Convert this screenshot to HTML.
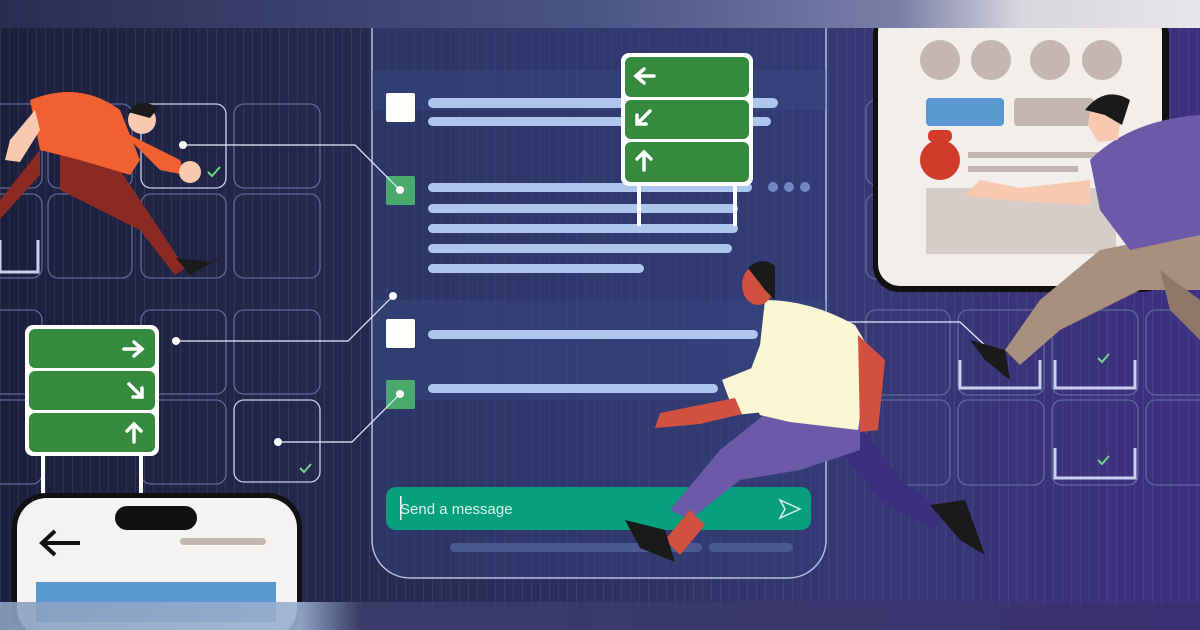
<!DOCTYPE html>
<html><head><meta charset="utf-8"><style>
html,body{margin:0;padding:0;width:1200px;height:630px;overflow:hidden;background:#22254a}
svg{display:block}
</style></head><body>
<svg width="1200" height="630" viewBox="0 0 1200 630" xmlns="http://www.w3.org/2000/svg">
<defs>
<linearGradient id="bg" x1="0" y1="0" x2="1" y2="0">
<stop offset="0" stop-color="#1c1f3c"/><stop offset="0.3" stop-color="#25294f"/><stop offset="0.7" stop-color="#353873"/><stop offset="1" stop-color="#3e2f80"/></linearGradient>
<linearGradient id="top" x1="0" y1="0" x2="1" y2="0">
<stop offset="0" stop-color="#2a2d52"/><stop offset="0.5" stop-color="#4a5588"/><stop offset="0.75" stop-color="#7a7fa8"/><stop offset="0.85" stop-color="#d8d6de"/><stop offset="1" stop-color="#e8e6ea"/></linearGradient>
<linearGradient id="bot" x1="0" y1="0" x2="1" y2="0">
<stop offset="0" stop-color="#8aa0c0"/><stop offset="0.25" stop-color="#9ab0d0"/><stop offset="0.3" stop-color="#3a3e6a"/><stop offset="1" stop-color="#3a3070"/></linearGradient>
<pattern id="vl" width="9" height="10" patternUnits="userSpaceOnUse"><rect x="0" y="0" width="1" height="10" fill="#ffffff" opacity="0.07"/></pattern>
</defs>
<rect width="1200" height="630" fill="url(#bg)"/>
<rect width="1200" height="630" fill="url(#vl)"/>
<g fill="none" stroke="#5d6a9c" stroke-width="1.3">
<rect x="-40" y="104" width="82" height="84" rx="10"/><rect x="48" y="104" width="84" height="84" rx="10"/><rect x="141" y="104" width="85" height="84" rx="10" stroke="#c8d0ee"/><rect x="234" y="104" width="86" height="84" rx="10"/>
<rect x="-40" y="194" width="82" height="84" rx="10"/><rect x="48" y="194" width="84" height="84" rx="10"/><rect x="141" y="194" width="85" height="84" rx="10"/><rect x="234" y="194" width="86" height="84" rx="10"/>
<rect x="-40" y="310" width="82" height="84" rx="10"/><rect x="141" y="310" width="85" height="84" rx="10"/><rect x="234" y="310" width="86" height="84" rx="10"/>
<rect x="-40" y="400" width="82" height="84" rx="10"/><rect x="141" y="400" width="85" height="84" rx="10"/><rect x="234" y="400" width="86" height="82" rx="10" stroke="#c8d0ee"/>
<rect x="866" y="310" width="84" height="85" rx="10"/><rect x="958" y="310" width="86" height="85" rx="10"/><rect x="1052" y="310" width="86" height="85" rx="10"/><rect x="1146" y="310" width="80" height="85" rx="10"/>
<rect x="866" y="400" width="84" height="85" rx="10"/><rect x="958" y="400" width="86" height="85" rx="10"/><rect x="1052" y="400" width="86" height="85" rx="10"/><rect x="1146" y="400" width="80" height="85" rx="10"/>
<rect x="866" y="100" width="84" height="85" rx="10"/><rect x="866" y="194" width="84" height="85" rx="10"/>
</g>
<g fill="none" stroke="#c8d0ee" stroke-width="3">
<path d="M960 360 v28 h80 v-28"/><path d="M1055 360 v28 h80 v-28"/><path d="M1055 448 v30 h80 v-30"/><path d="M0 240 v32 h38 v-32"/>
</g>
<g stroke="#6fd08a" stroke-width="2" fill="none"><path d="M208 172 l4 4 l8 -9"/><path d="M300 468 l4 4 l7 -8"/><path d="M1098 358 l4 4 l7 -8"/><path d="M1098 460 l4 4 l7 -8"/></g>
<path d="M372 28 V540 a38 38 0 0 0 38 38 H788 a38 38 0 0 0 38 -38 V28" fill="#33407a" fill-opacity="0.55" stroke="#b8c0e0" stroke-width="1.5"/>
<rect x="372" y="70" width="454" height="40" fill="#3a4c86" opacity="0.35"/>
<rect x="372" y="300" width="454" height="100" fill="#3a4c86" opacity="0.35"/>
<g fill="#aec6ee"><rect x="428" y="98" width="350" height="10" rx="5"/><rect x="428" y="117" width="343" height="9" rx="4.5"/>
<rect x="428" y="183" width="324" height="9" rx="4.5"/><rect x="428" y="204" width="310" height="9" rx="4.5"/><rect x="428" y="224" width="310" height="9" rx="4.5"/><rect x="428" y="244" width="304" height="9" rx="4.5"/><rect x="428" y="264" width="216" height="9" rx="4.5"/>
<rect x="428" y="330" width="330" height="9" rx="4.5"/><rect x="428" y="384" width="290" height="9" rx="4.5"/></g>
<g fill="#7686c0"><circle cx="773" cy="187" r="5"/><circle cx="789" cy="187" r="5"/><circle cx="805" cy="187" r="5"/></g>
<rect x="386" y="93" width="29" height="29" rx="2" fill="#fff"/><rect x="386" y="319" width="29" height="29" rx="2" fill="#fff"/>
<rect x="386" y="176" width="29" height="29" rx="2" fill="#4aaa6e"/><rect x="386" y="380" width="29" height="29" rx="2" fill="#4aaa6e"/>
<g stroke="#e8ecff" stroke-width="1.2" fill="none"><path d="M183 145 H355 L400 190"/><path d="M176 341 H348 L393 296"/><path d="M278 442 H352 L400 394"/><path d="M800 322 H960 L990 350"/></g>
<g fill="#fff"><circle cx="183" cy="145" r="4"/><circle cx="400" cy="190" r="4"/><circle cx="176" cy="341" r="4"/><circle cx="393" cy="296" r="4"/><circle cx="278" cy="442" r="4"/><circle cx="400" cy="394" r="4"/></g>
<rect x="386" y="487" width="425" height="43" rx="10" fill="#07a07e"/>
<rect x="400" y="496" width="1.5" height="24" fill="#fff"/>
<text x="400" y="514" font-family="Liberation Sans, sans-serif" font-size="15" fill="#d8f0ea">Send a message</text>
<path d="M780 500 L800 509 L780 518 L785 509 Z" fill="none" stroke="#d8f0ea" stroke-width="1.5"/>
<rect x="450" y="543" width="252" height="9" rx="4.5" fill="#4a5a90"/><rect x="709" y="543" width="84" height="9" rx="4.5" fill="#4a5a90"/>
<rect x="637" y="180" width="4" height="46" fill="#fff"/><rect x="733" y="180" width="4" height="46" fill="#fff"/>
<rect x="621" y="53" width="132" height="133" rx="8" fill="#fff"/>
<g fill="#358a3e"><rect x="625" y="57" width="124" height="40" rx="6"/><rect x="625" y="100" width="124" height="39" rx="6"/><rect x="625" y="142" width="124" height="40" rx="6"/></g>
<g stroke="#fff" stroke-width="3.5" fill="none" stroke-linecap="round"><path d="M654 76 H636 M644 69 L636 76 L644 83"/><path d="M650 111 L637 124 M637 115 V124 H646"/><path d="M644 170 V152 M637 159 L644 152 L651 159"/></g>
<rect x="41" y="452" width="4" height="46" fill="#fff"/><rect x="139" y="452" width="4" height="46" fill="#fff"/>
<rect x="25" y="325" width="134" height="131" rx="8" fill="#fff"/>
<g fill="#358a3e"><rect x="29" y="329" width="126" height="39" rx="6"/><rect x="29" y="371" width="126" height="39" rx="6"/><rect x="29" y="413" width="126" height="39" rx="6"/></g>
<g stroke="#fff" stroke-width="3.5" fill="none" stroke-linecap="round"><path d="M124 349 H142 M134 342 L142 349 L134 356"/><path d="M129 384 L142 397 M142 388 V397 H133"/><path d="M134 442 V424 M127 431 L134 424 L141 431"/></g>
<rect x="873" y="10" width="296" height="282" rx="26" fill="#111"/>
<rect x="878" y="10" width="284" height="276" rx="22" fill="#f1eeec"/>
<g fill="#c4b6b0"><circle cx="940" cy="60" r="20"/><circle cx="991" cy="60" r="20"/><circle cx="1050" cy="60" r="20"/><circle cx="1102" cy="60" r="20"/></g>
<rect x="926" y="98" width="78" height="28" rx="4" fill="#5a98d0"/><rect x="1014" y="98" width="80" height="28" rx="4" fill="#c4b6b0"/>
<rect x="968" y="152" width="130" height="6" fill="#c4b6b0"/><rect x="968" y="166" width="110" height="6" fill="#c4b6b0"/>
<rect x="926" y="188" width="190" height="66" fill="#d6ccc8"/>
<circle cx="940" cy="160" r="20" fill="#d23a2a"/><rect x="928" y="130" width="24" height="12" rx="5" fill="#d23a2a"/>
<rect x="12" y="493" width="290" height="150" rx="34" fill="#111"/>
<rect x="17" y="498" width="280" height="140" rx="30" fill="#f5f3f2"/>
<rect x="115" y="506" width="82" height="24" rx="12" fill="#111"/>
<path d="M80 543 H42 M55 531 L42 543 L55 555" stroke="#111" stroke-width="4" fill="none"/>
<rect x="180" y="538" width="86" height="7" rx="3.5" fill="#c4b6b0"/>
<rect x="36" y="582" width="240" height="40" fill="#5a98d0"/>
<rect x="0" y="0" width="1200" height="28" fill="url(#top)"/>
<rect x="0" y="602" width="1200" height="28" fill="url(#bot)" opacity="0.9"/>
<!-- person left -->
<g>
<path d="M40 150 L0 200 L-10 230 L40 175 Z" fill="#8a2a22"/>
<path d="M60 150 L120 170 L160 230 L185 268 L175 275 L140 230 L60 190 Z" fill="#8a2a22"/>
<path d="M30 100 Q80 80 120 110 L140 160 L130 175 L80 160 L40 150 Z" fill="#f06030"/>
<path d="M120 130 L160 170 L185 175 L180 160 L150 145 Z" fill="#f06030"/>
<circle cx="190" cy="172" r="11" fill="#f8c9b0"/>
<path d="M35 110 L10 140 L5 160 L20 162 L40 130 Z" fill="#f8c9b0"/>
<circle cx="142" cy="120" r="14" fill="#f8c9b0"/><path d="M128 112 Q140 96 158 108 L150 118 Z" fill="#1a1a1a"/>
<path d="M176 258 L210 262 L225 255 L190 275 Z" fill="#1a1a1a"/>
</g>
<!-- person center -->
<g>
<path d="M860 425 L900 480 L945 510 L935 530 L880 500 L840 450 Z" fill="#3d2f80"/>
<path d="M770 410 L860 420 L860 450 L800 470 L740 480 L690 520 L670 510 L720 450 Z" fill="#6a5aa8"/>
<path d="M690 510 L705 525 L680 555 L665 540 Z" fill="#d25040"/>
<path d="M625 520 L665 530 L675 562 L640 548 Z" fill="#1a1a1a"/>
<path d="M930 505 L965 500 L985 555 L960 540 Z" fill="#1a1a1a"/>
<path d="M765 300 Q810 300 855 325 L870 350 L858 430 L790 422 L760 415 L745 385 L760 345 Z" fill="#fbf7d4"/>
<path d="M722 380 L752 368 L764 412 L735 415 Z" fill="#fbf7d4"/>
<path d="M735 398 L700 405 L660 413 L655 428 L700 424 L742 414 Z" fill="#d25040"/>
<path d="M858 335 L885 360 L878 430 L860 432 Z" fill="#d25040"/>
<ellipse cx="758" cy="285" rx="16" ry="20" fill="#d25040"/><path d="M748 268 Q762 255 775 266 L775 300 L765 290 Z" fill="#1a1a1a"/>
</g>
<!-- person right -->
<g>
<path d="M1200 230 L1100 250 L1040 300 L1005 350 L1020 365 L1060 330 L1140 290 L1200 290 Z" fill="#a89080"/>
<path d="M1160 270 L1200 300 L1200 340 L1170 310 Z" fill="#8f7868"/>
<path d="M1090 160 Q1130 120 1200 115 L1200 235 L1130 250 L1100 210 Z" fill="#6a5aa8"/>
<path d="M1090 180 L1020 188 L980 180 L965 195 L1000 200 L1090 205 Z" fill="#f8c9b0"/>
<path d="M1090 110 Q1110 100 1122 108 L1118 140 L1098 142 L1088 125 Z" fill="#f8c9b0"/>
<path d="M1085 110 Q1105 85 1130 100 L1122 125 L1105 115 Z" fill="#1a1a1a"/>
<path d="M970 340 L1005 350 L1010 380 L985 360 Z" fill="#1a1a1a"/>
</g>
</svg>
</body></html>
